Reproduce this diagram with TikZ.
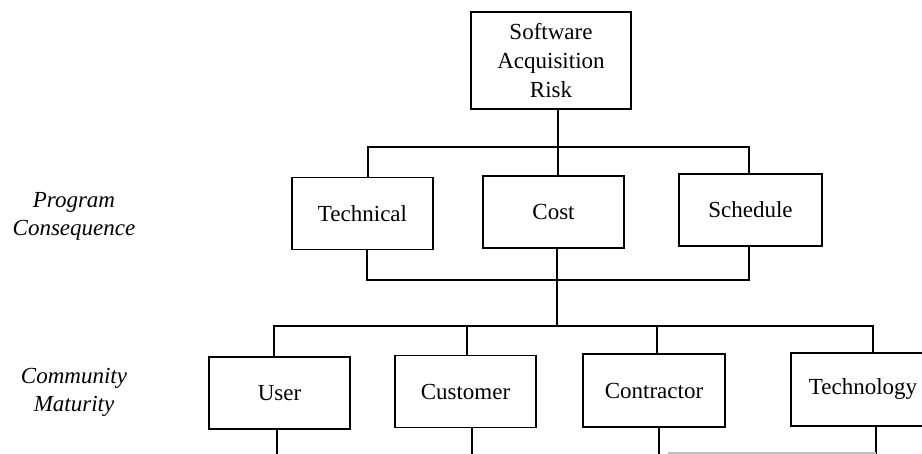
\documentclass[tikz,border=0pt]{standalone}
\usepackage{fontspec}
\setmainfont{Liberation Serif}
\begin{document}
\begin{tikzpicture}[x=0.5pt,y=-0.5pt,
  box/.style={draw,line width=0.55pt,inner sep=0pt,align=center,minimum width=70.5pt,minimum height=36pt,font=\fontsize{11.5}{14.3}\selectfont},
  side/.style={align=center,font=\fontsize{11.5}{14}\selectfont\itshape},
  bus/.style={line width=1.3pt}]
  \clip (0,0) rectangle (922,454);
  \node[box,minimum width=80pt,minimum height=48.5pt] (risk) at (551,60.5) {Software\\Acquisition\\Risk};
  \node[box] (tech) at (362.5,213.5) {Technical};
  \node[box] (cost) at (553.5,212) {Cost};
  \node[box,minimum width=71.5pt] (sched) at (750.5,210) {Schedule};
  \node[box] (user) at (279.5,393) {User};
  \node[box] (cust) at (465.5,391.5) {Customer};
  \node[box,minimum width=71pt,minimum height=36.5pt] (contr) at (654,390.5) {Contractor};
  \node[box,minimum width=72pt,minimum height=36.5pt] (techn) at (863,389.5) {Technology};
  \node[side] (conseq) at (74,216) {Program\\Consequence};
  \node[side] (maturity) at (74,392) {Community\\Maturity};
  \coordinate (top bus) at (558,147);
  \coordinate (mid bus) at (557,280);
  \coordinate (low bus) at (557,326);
  \coordinate (bottom) at (0,456);
  \draw[bus] (risk.south -| top bus) -- (top bus) -- ([xshift=2.25pt]cost.north);
  \draw[bus] ([xshift=2.75pt]tech.north) |- ([xshift=-0.75pt]sched.north |- top bus) -- ([xshift=-0.75pt]sched.north);
  \draw[bus] ([xshift=2.25pt]tech.south) |- ([xshift=-0.75pt]sched.south |- mid bus) -- ([xshift=-0.75pt]sched.south);
  \draw[bus] ([xshift=1.75pt]cost.south) -- (mid bus) -- (low bus);
  \draw[bus] ([xshift=-2.75pt]user.north) |- ([xshift=5pt]techn.north |- low bus) -- ([xshift=5pt]techn.north);
  \draw[bus] ([xshift=0.75pt]cust.north |- low bus) -- ([xshift=0.75pt]cust.north);
  \draw[bus] ([xshift=1.5pt]contr.north |- low bus) -- ([xshift=1.5pt]contr.north);
  \draw[bus] ([xshift=-1.25pt]user.south) -- ([xshift=-1.25pt]user.south |- bottom);
  \draw[bus] ([xshift=3.25pt]cust.south) -- ([xshift=3.25pt]cust.south |- bottom);
  \draw[bus] ([xshift=2.5pt]contr.south) -- ([xshift=2.5pt]contr.south |- bottom);
  \draw[bus] ([xshift=6.5pt]techn.south) -- ([xshift=6.5pt]techn.south |- bottom);
  \draw[gray!50,line width=0.6pt] (668,453) -- (876,453);
\end{tikzpicture}
\end{document}
